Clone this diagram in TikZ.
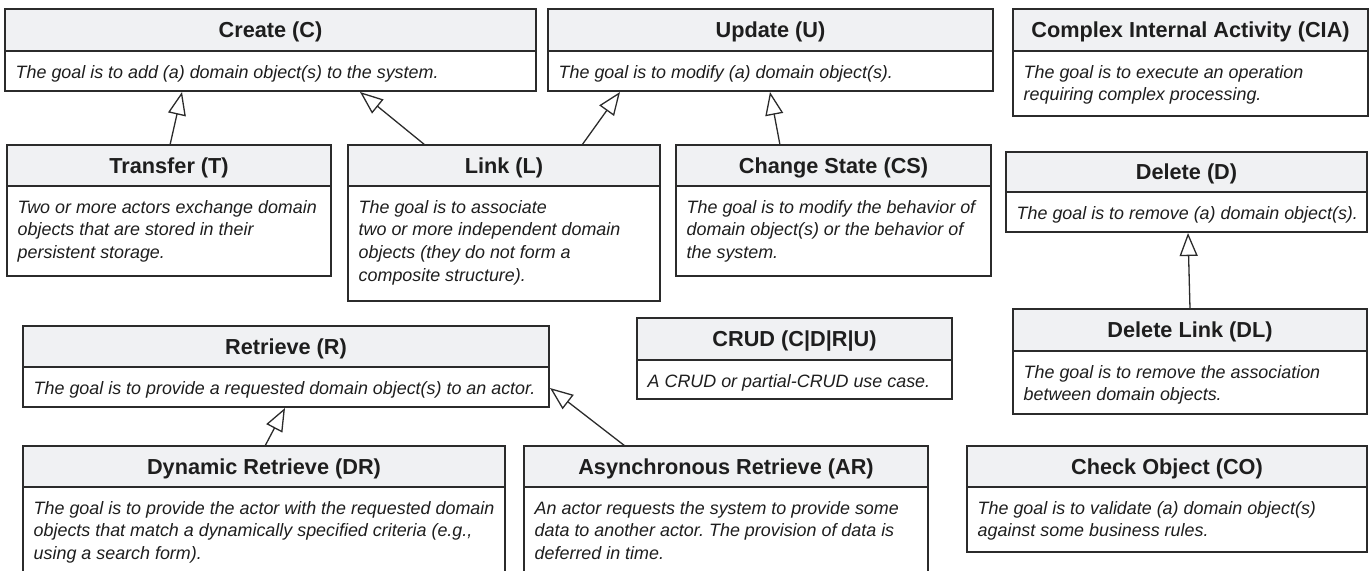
\documentclass[tikz,border=0pt]{standalone}
\usepackage{fontspec}
\setmainfont{Liberation Sans}
\usetikzlibrary{arrows.meta}
\frenchspacing
\definecolor{bordc}{HTML}{2B2B2B}
\definecolor{headc}{HTML}{F0F1F3}
\definecolor{textc}{HTML}{1E1E1E}
\newcommand\ucbox[8]{%
  \pgfmathsetmacro\ucw{#4-#2}%
  \pgfmathsetmacro\uchh{#5-#3}%
  \pgfmathsetmacro\ucbh{#6-#5}%
  \pgfmathsetmacro\ucmx{(#2+#4)/2}%
  \pgfmathsetmacro\ucty{(#3+#5)/2+7.8}%
  \pgfmathsetmacro\ucby{#5+27}%
  \pgfmathsetmacro\ucbx{#2+10.5}%
  \node[ucbody, minimum width=\ucw pt, minimum height=\ucbh pt] (#1) at (#2,#5) {};
  \node[uchead, minimum width=\ucw pt, minimum height=\uchh pt] (#1h) at (#2,#3) {};
  \node[uctitle] (#1ti) at (\ucmx,\ucty) {#7};
  \node[uctext] (#1tx) at (\ucbx,\ucby) {\begin{tabular}[t]{@{}l@{}}#8\end{tabular}};
}
\begin{document}
\begin{tikzpicture}[x=1pt,y=-1pt,
  uchead/.style={draw=bordc, fill=headc, line width=1.4pt, anchor=north west, inner sep=0pt, outer sep=0pt},
  ucbody/.style={draw=bordc, fill=white, line width=1.4pt, anchor=north west, inner sep=0pt, outer sep=0pt},
  uctitle/.style={anchor=base, inner sep=0pt, text=textc, font=\fontsize{21.7}{25}\selectfont\bfseries},
  uctext/.style={anchor=base west, inner sep=0pt, text=textc, font=\fontsize{17.9}{22.8}\selectfont\itshape},
  gen/.style={draw=bordc, line width=1.3pt, -{Triangle[open, length=23pt, width=18pt, line width=1.3pt]}}]
\useasboundingbox (0,0) rectangle (1372,570);
\ucbox{C}{5}{9}{536}{51}{91}{Create (C)}{The goal is to add (a) domain object(s) to the system.}
\ucbox{U}{548}{9}{993}{51}{91}{Update (U)}{The goal is to modify (a) domain object(s).}
\ucbox{CIA}{1013}{9}{1368}{51}{116}{Complex Internal Activity (CIA)}{The goal is to execute an operation\\requiring complex processing.}
\ucbox{T}{7}{145}{331}{186}{276}{Transfer (T)}{Two or more actors exchange domain\\objects that are stored in their\\persistent storage.}
\ucbox{L}{348}{145}{660}{186}{301}{Link (L)}{The goal is to associate\\two or more independent domain\\objects (they do not form a\\composite structure).}
\ucbox{CS}{676}{145}{991}{186}{276}{Change State (CS)}{The goal is to modify the behavior of\\domain object(s) or the behavior of\\the system.}
\ucbox{D}{1006}{152}{1367}{192}{232}{Delete (D)}{The goal is to remove (a) domain object(s).}
\ucbox{CRUD}{637}{318}{952}{360}{399}{CRUD (C|D|R|U)}{A CRUD or partial-CRUD use case.}
\ucbox{R}{23}{326}{549}{367}{407}{Retrieve (R)}{The goal is to provide a requested domain object(s) to an actor.}
\ucbox{DL}{1013}{309}{1367}{351}{414}{Delete Link (DL)}{The goal is to remove the association\\between domain objects.}
\ucbox{DR}{23}{446}{505}{487}{585}{Dynamic Retrieve (DR)}{The goal is to provide the actor with the requested domain\\objects that match a dynamically specified criteria (e.g.,\\using a search form).}
\ucbox{AR}{524}{446}{928}{487}{585}{Asynchronous Retrieve (AR)}{An actor requests the system to provide some\\data to another actor. The provision of data is\\deferred in time.}
\ucbox{CO}{967}{446}{1367}{487}{552}{Check Object (CO)}{The goal is to validate (a) domain object(s)\\against some business rules.}
% connector end points
\coordinate (Ttop) at (170,145);
\coordinate (Cb1) at (182,92);
\coordinate (Ltop1) at (425,145);
\coordinate (Cb2) at (360,92);
\coordinate (Ltop2) at (582,145);
\coordinate (Ub1) at (620,92);
\coordinate (CStop) at (780,145);
\coordinate (Ub2) at (770,92);
\coordinate (DLtop) at (1190,309);
\coordinate (Db) at (1188,233);
\coordinate (DRtop) at (265,446);
\coordinate (Rb) at (285,408);
\coordinate (ARtop) at (625,446);
\coordinate (Rc) at (550,388);
\draw[gen] (Ttop) -- (Cb1);
\draw[gen] (Ltop1) -- (Cb2);
\draw[gen] (Ltop2) -- (Ub1);
\draw[gen] (CStop) -- (Ub2);
\draw[gen] (DLtop) -- (Db);
\draw[gen] (DRtop) -- (Rb);
\draw[gen] (ARtop) -- (Rc);
\end{tikzpicture}
\end{document}
